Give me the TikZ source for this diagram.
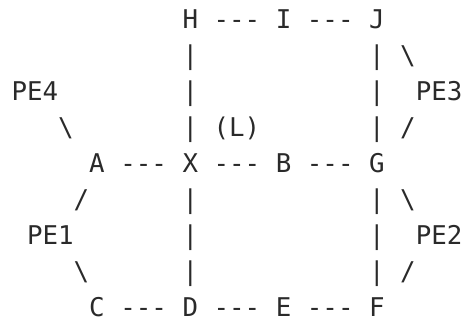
\documentclass[tikz,border=0pt]{standalone}
\usepackage{fontspec}
\newfontfamily\monofnt{DejaVu Sans Mono}
\definecolor{ink}{HTML}{2A2A2A}
\newcommand\tk[4]{\node[txt] (#1) at ({3.7+15.55*#2},{29+35.9*(#3-1)}) {#4};}
\begin{document}
\begin{tikzpicture}[x=1pt,y=-1pt,
  txt/.style={inner sep=0pt,anchor=base,text=ink,font=\monofnt\fontsize{25.8pt}{30pt}\selectfont}]
\useasboundingbox (0,0) rectangle (465,320);
% row 1
\tk{H}{12}{1}{H}
\tk{hi}{15}{1}{---}
\tk{I}{18}{1}{I}
\tk{ij}{21}{1}{---}
\tk{J}{24}{1}{J}
% row 2
\tk{v2a}{12}{2}{|}
\tk{v2b}{24}{2}{|}
\tk{s2}{26}{2}{\textbackslash}
% row 3
\tk{PE4}{2}{3}{PE4}
\tk{v3a}{12}{3}{|}
\tk{v3b}{24}{3}{|}
\tk{PE3}{28}{3}{PE3}
% row 4
\tk{s4a}{4}{4}{\textbackslash}
\tk{v4a}{12}{4}{|}
\tk{L}{15}{4}{(L)}
\tk{v4b}{24}{4}{|}
\tk{s4b}{26}{4}{/}
% row 5
\tk{A}{6}{5}{A}
\tk{ax}{9}{5}{---}
\tk{X}{12}{5}{X}
\tk{xb}{15}{5}{---}
\tk{B}{18}{5}{B}
\tk{bg}{21}{5}{---}
\tk{G}{24}{5}{G}
% row 6
\tk{s6a}{5}{6}{/}
\tk{v6a}{12}{6}{|}
\tk{v6b}{24}{6}{|}
\tk{s6b}{26}{6}{\textbackslash}
% row 7
\tk{PE1}{3}{7}{PE1}
\tk{v7a}{12}{7}{|}
\tk{v7b}{24}{7}{|}
\tk{PE2}{28}{7}{PE2}
% row 8
\tk{s8a}{5}{8}{\textbackslash}
\tk{v8a}{12}{8}{|}
\tk{v8b}{24}{8}{|}
\tk{s8b}{26}{8}{/}
% row 9
\tk{C}{6}{9}{C}
\tk{cd}{9}{9}{---}
\tk{D}{12}{9}{D}
\tk{de}{15}{9}{---}
\tk{E}{18}{9}{E}
\tk{ef}{21}{9}{---}
\tk{F}{24}{9}{F}
\end{tikzpicture}
\end{document}
